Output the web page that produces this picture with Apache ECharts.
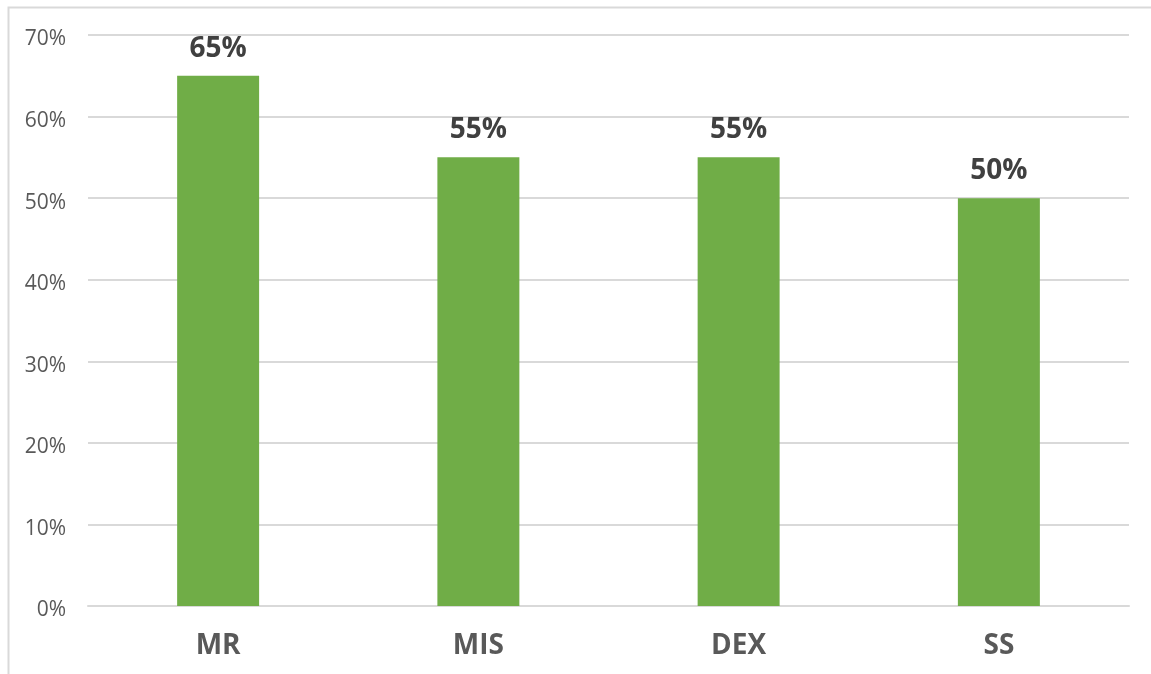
<!DOCTYPE html>
<html><head><meta charset="utf-8">
<script src="https://cdn.jsdelivr.net/npm/echarts@6/dist/echarts.min.js"></script>
<style>html,body{margin:0;padding:0;background:#fff}#c{width:1151px;height:674px}</style>
</head><body><div id="c"></div>
<script>
const categories = ['MR', 'MIS', 'DEX', 'SS'];
const values = [65, 55, 55, 50];
const yMin = 0, yMax = 70, yStep = 10;

const chart = echarts.init(document.getElementById('c'), null, {renderer: 'canvas'});
chart.setOption({
  animation: false,
  textStyle: {fontFamily: 'Open Sans'},
  graphic: [{type: 'rect', left: 6, top: 5, shape: {width: 1200, height: 700},
    style: {fill: 'none', stroke: '#d9d9d9', lineWidth: 2}, silent: true}],
  grid: {left: 88, right: 22, top: 35, bottom: 68},
  xAxis: {type: 'category', data: categories,
    axisLine: {show: true, lineStyle: {color: '#d9d9d9', width: 2}},
    axisTick: {show: false},
    axisLabel: {color: '#595959', fontSize: 28, fontWeight: 'bold', margin: 26, fontFamily: 'Open Sans'}},
  yAxis: {type: 'value', min: yMin, max: yMax, interval: yStep,
    axisLine: {show: false}, axisTick: {show: false},
    splitLine: {lineStyle: {color: '#d9d9d9', width: 2}},
    axisLabel: {margin: 22, formatter: v => '{a|' + v + '%}',
      rich: {a: {color: '#595959', fontSize: 21, fontFamily: 'Open Sans', padding: [9, 0, 0, 0]}}}},
  series: [{type: 'bar', data: values, barWidth: '31.5%',
    itemStyle: {color: '#70ad47'},
    label: {show: true, position: 'top', distance: 13, formatter: '{c}%',
      color: '#404040', fontSize: 28, fontWeight: 'bold', fontFamily: 'Open Sans'}}]
});
</script></body></html>
